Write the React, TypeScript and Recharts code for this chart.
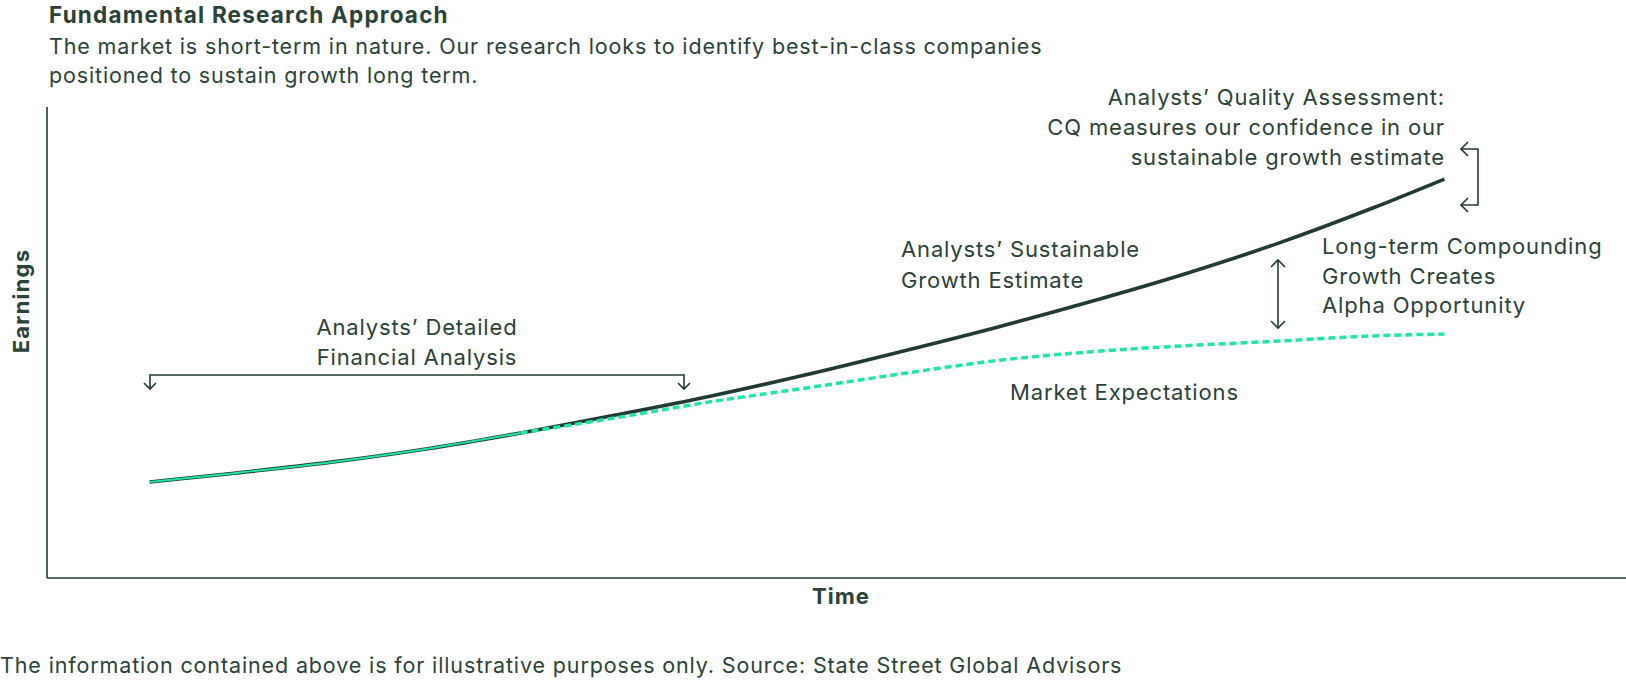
import { LineChart, Line, XAxis, YAxis, ReferenceLine } from 'recharts';

// time axis (arbitrary units, 0-100) and earnings index (0-100)
const time = [6.5, 12, 18, 24, 30, 36, 42, 48, 54, 60, 66, 72, 78, 84, 88.5];
const sustainableGrowth = [20.4, 22.3, 24.6, 27.4, 30.8, 34.6, 38.6, 43.1, 48.0, 53.1, 58.6, 64.5, 71.1, 78.6, 84.7];
const marketShared = [20.4, 22.3, 24.6, 27.4, 30.8, null, null, null, null, null, null, null, null, null, null];
const marketExpectations = [null, null, null, null, 30.8, 34.0, 37.4, 40.3, 43.3, 46.1, 48.0, 49.3, 50.3, 51.4, 51.8];

const data = time.map((t, i) => ({
  t,
  growth: sustainableGrowth[i],
  shared: marketShared[i],
  market: marketExpectations[i],
}));

const DARK = '#223b30';
const GREEN = '#1fe6a4';
const TEXT = '#2a4237';
const FONT = 'Inter, "Liberation Sans", sans-serif';

const W = 1626;
const H = 684;

function Overlay() {
  const base = { fill: TEXT, fontFamily: FONT };
  return (
    <svg width={W} height={H} style={{ position: 'absolute', left: 0, top: 0, pointerEvents: 'none' }}>
      <text x={49} y={23} fontSize={22.5} fontWeight={700} letterSpacing={1.2} {...base}>
        Fundamental Research Approach
      </text>
      <text x={49} y={54} fontSize={21.5} letterSpacing={0.85} {...base}>
        The market is short-term in nature. Our research looks to identify best-in-class companies
      </text>
      <text x={49} y={83} fontSize={21.5} letterSpacing={0.85} {...base}>
        positioned to sustain growth long term.
      </text>

      <text
        transform="translate(29,301) rotate(-90)"
        textAnchor="middle"
        fontSize={22}
        fontWeight={700}
        letterSpacing={1.2}
        {...base}
      >
        Earnings
      </text>
      <text x={841} y={604} textAnchor="middle" fontSize={22} fontWeight={700} letterSpacing={1} {...base}>
        Time
      </text>
      <text x={0} y={673} fontSize={21.5} letterSpacing={0.87} {...base}>
        The information contained above is for illustrative purposes only. Source: State Street Global Advisors
      </text>

      <g fontSize={22} letterSpacing={0.85} {...base} textAnchor="end">
        <text x={1445} y={105}>Analysts’ Quality Assessment:</text>
        <text x={1445} y={135}>CQ measures our confidence in our</text>
        <text x={1445} y={165}>sustainable growth estimate</text>
      </g>
      <g fontSize={22} letterSpacing={0.85} {...base}>
        <text x={901} y={257}>Analysts’ Sustainable</text>
        <text x={901} y={288}>Growth Estimate</text>
        <text x={1322} y={254}>Long-term Compounding</text>
        <text x={1322} y={284}>Growth Creates</text>
        <text x={1322} y={313}>Alpha Opportunity</text>
        <text x={1010} y={400}>Market Expectations</text>
      </g>
      <g fontSize={22} letterSpacing={0.85} {...base} textAnchor="middle">
        <text x={417} y={335}>Analysts’ Detailed</text>
        <text x={417} y={365}>Financial Analysis</text>
      </g>

      <g stroke={DARK} strokeWidth={1.6} fill="none">
        <path d="M150 389 L150 375 L684 375 L684 389" />
        <path d="M144 383 L150 389 L156 383" />
        <path d="M678 383 L684 389 L690 383" />
        <path d="M1278 260 L1278 328" />
        <path d="M1271 267 L1278 260 L1285 267" />
        <path d="M1271 321 L1278 328 L1285 321" />
        <path d="M1461 149 L1478 149 L1478 205 L1461 205" />
        <path d="M1468 142 L1461 149 L1468 156" />
        <path d="M1468 198 L1461 205 L1468 212" />
      </g>
    </svg>
  );
}

export default function App() {
  return (
    <div style={{ position: 'absolute', left: 0, top: 0, width: W, height: H, background: '#fff' }}>
      <LineChart width={W} height={H} data={data} margin={{ top: 107, right: 0, bottom: 106, left: 47 }}>
        <XAxis dataKey="t" type="number" domain={[0, 100]} hide />
        <YAxis type="number" domain={[0, 100]} hide />
        <ReferenceLine y={0} stroke={DARK} strokeWidth={1.6} ifOverflow="visible" />
        <ReferenceLine x={0} stroke={DARK} strokeWidth={1.6} ifOverflow="visible" />
        <Line type="monotone" dataKey="growth" stroke={DARK} strokeWidth={3.6} dot={false} isAnimationActive={false} />
        <Line type="monotone" dataKey="shared" stroke={GREEN} strokeWidth={2} dot={false} isAnimationActive={false} />
        <Line
          type="monotone"
          dataKey="market"
          stroke={GREEN}
          strokeWidth={3.5}
          strokeDasharray="7 4"
          dot={false}
          isAnimationActive={false}
        />
      </LineChart>
      <Overlay />
    </div>
  );
}
